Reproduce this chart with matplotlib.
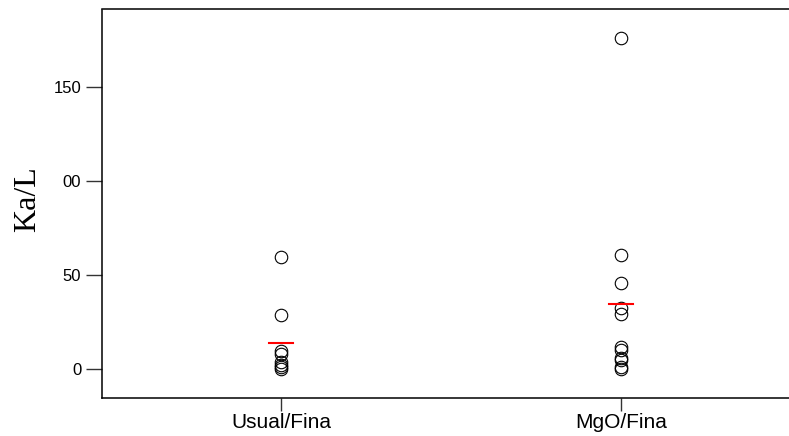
import matplotlib
matplotlib.use("Agg")
import matplotlib.pyplot as plt
import numpy as np

groups = ["Usual/Fina", "MgO/Fina"]
usual_vals = [59.5, 29, 9.5, 8, 4, 2, 1, 0]
mgo_vals = [176, 61, 46, 32.5, 29.5, 12, 10.5, 6, 5, 1, 0]
ytick_vals = [0, 50, 100, 150]
ytick_text = ["0", "50", "00", "150"]

fig = plt.figure(figsize=(7.89, 4.36), dpi=100)
ax = fig.add_axes([102 / 789, 1 - 398 / 436, 1 - 102 / 789, (398 - 9.5) / 436])

for i, vals in enumerate([usual_vals, mgo_vals]):
    xpos = np.full(len(vals), i + 1)
    ax.plot(xpos, vals, linestyle="none", marker="o", markersize=9,
            markerfacecolor="none", markeredgecolor="black", markeredgewidth=0.8)
    # red line at the group mean
    m = np.mean(vals)
    ax.plot([i + 1 - 0.036, i + 1 + 0.036], [m, m], color="red", lw=1.5)

ax.set_xlim(0.474, 2.494)
ax.set_ylim(-15.3, 191.4)
ax.set_xticks([1, 2])
ax.set_xticklabels(groups, fontsize=15, family="Liberation Sans")
ax.set_yticks(ytick_vals)
ax.set_yticklabels(ytick_text, fontsize=12, family="Liberation Sans")
ax.tick_params(axis="y", direction="out", length=11.5, width=1, pad=3.5, color="#333333")
ax.tick_params(axis="x", direction="out", length=9.5, width=1, pad=1, color="#333333")
ax.set_ylabel("Ka/L", fontsize=23, family="Liberation Serif")
ax.yaxis.set_label_coords(-0.087, 0.512)

ax.spines["right"].set_visible(False)
for s in ["left", "top", "bottom"]:
    ax.spines[s].set_linewidth(1.1)

fig.savefig("out.png", dpi=100)
